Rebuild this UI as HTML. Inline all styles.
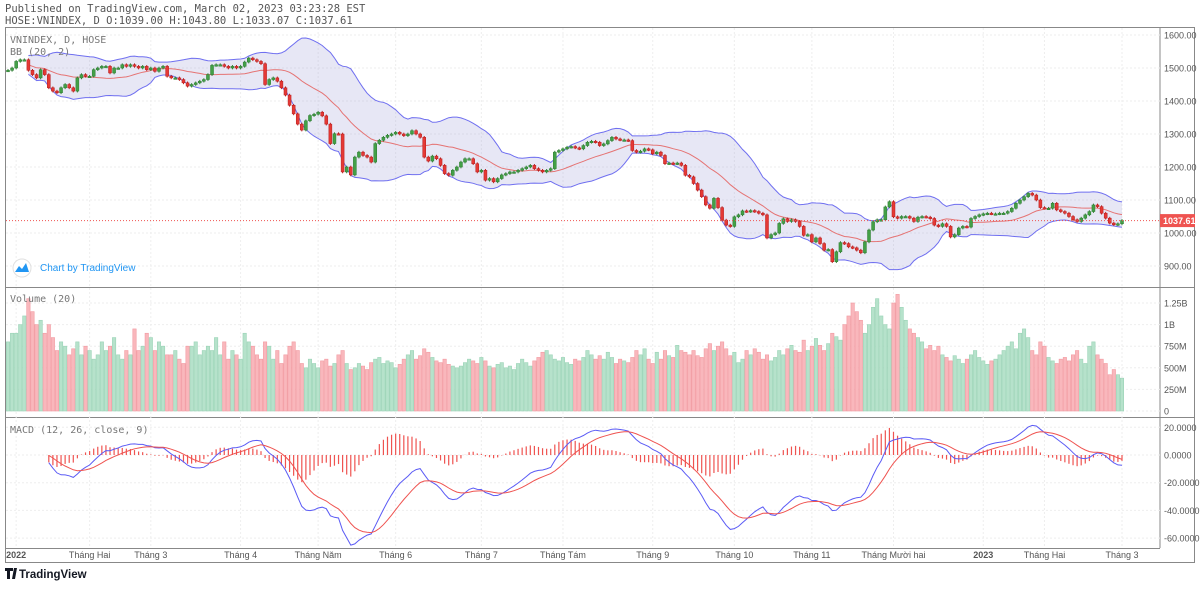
<!DOCTYPE html>
<html><head><meta charset="utf-8"><style>
body{margin:0;background:#fff;width:1200px;height:584px;overflow:hidden;font-family:"Liberation Mono","DejaVu Sans Mono",monospace}
svg text{font-family:"Liberation Sans",sans-serif}
.mono{font-family:"DejaVu Sans Mono","Liberation Mono",monospace}
</style></head><body>
<svg id="c" width="1200" height="584" viewBox="0 0 1200 584" xmlns="http://www.w3.org/2000/svg">
<text class="mono" x="5" y="12" font-size="10.5" fill="#555">Published on TradingView.com, March 02, 2023 03:23:28 EST</text>
<text class="mono" x="5" y="24" font-size="10.5" fill="#555">HOSE:VNINDEX, D O:1039.00 H:1043.80 L:1033.07 C:1037.61</text>
<rect x="5.5" y="27.5" width="1189" height="535" fill="none" stroke="#888"/>
<line x1="1160" y1="27" x2="1160" y2="548" stroke="#888"/>
<line x1="5" y1="287.5" x2="1195" y2="287.5" stroke="#888"/>
<line x1="5" y1="417.5" x2="1195" y2="417.5" stroke="#888"/>
<line x1="5" y1="548.5" x2="1160" y2="548.5" stroke="#888"/>
<g id="grid"></g>
<g id="bb"></g>
<g id="candles"></g>
<g id="vol"></g>
<g id="macd"></g>
<g id="axes"></g>
<text class="mono" x="10" y="43" font-size="10" fill="#777">VNINDEX, D, HOSE</text>
<text class="mono" x="10" y="55" font-size="10" fill="#777">BB (20, 2)</text>
<text class="mono" x="10" y="302" font-size="10" fill="#777">Volume (20)</text>
<text class="mono" x="10" y="433" font-size="10" fill="#777">MACD (12, 26, close, 9)</text>
<g>
<circle cx="22" cy="268" r="9" fill="#fff" stroke="#e0e0e0"/>
<path d="M15 272 L19 266 L22 269 L26 263 L29 272 Z" fill="#2196f3"/>
<text x="40" y="271" font-size="10" fill="#2196f3">Chart by TradingView</text>
</g>
<g>
<path d="M5 568 h8 v3 h-3 v8 h-3 v-8 h-2z M14 568 h3 l-2 11 h-3 z" fill="#131722"/>
<text x="19" y="578" font-size="11.5" font-weight="bold" fill="#131722">TradingView</text>
</g>
</svg>
<script>
const closes=[1493,1500,1520,1525,1525,1493,1480,1470,1495,1480,
1440,1430,1425,1440,1450,1440,1430,1470,1480,1475,
1475,1495,1500,1505,1505,1485,1500,1500,1510,1505,
1510,1505,1500,1505,1495,1500,1490,1500,1505,1475,
1470,1470,1465,1455,1445,1450,1455,1460,1465,1480,
1508,1510,1510,1505,1500,1505,1500,1505,1518,1530,
1525,1520,1513,1450,1465,1470,1460,1440,1418,1387,
1361,1330,1312,1340,1356,1360,1366,1355,1330,1271,
1301,1300,1185,1200,1176,1230,1245,1235,1230,1215,
1271,1281,1290,1296,1300,1305,1300,1295,1300,1310,
1300,1290,1230,1218,1233,1225,1205,1180,1175,1190,
1200,1215,1225,1225,1210,1185,1190,1160,1165,1155,
1165,1176,1180,1185,1185,1190,1195,1200,1205,1195,
1190,1185,1190,1195,
1245,1250,1255,1260,1262,1258,1255,1265,1275,1278,
1275,1265,1270,1280,1290,1285,1282,1282,1280,1250,
1245,1248,1255,1252,1240,1245,1235,1210,1212,1210,
1212,1205,1175,1170,1150,1130,1110,1085,1075,1105,
1077,1039,1024,1020,1049,1055,1067,1065,1068,1065,
1060,1055,985,995,1000,1029,1043,1035,1040,1035,
1020,993,995,973,985,968,948,950,913,943,
971,968,958,955,948,940,973,1009,1034,1040,
1040,1079,1095,1049,1045,1050,1050,1045,1035,1048,
1050,1048,1044,1024,1020,1028,1020,988,995,1015,
1020,1018,1044,1050,1055,1058,1060,1058,1058,1060,
1060,1065,1075,1090,1100,1110,1120,1115,1100,1077,
1075,1075,1090,1070,1065,1060,1050,1040,1035,1045,
1055,1065,1085,1080,1060,1045,1030,1025,1028,1038];
const volumes=[800,900,900,1000,1100,1300,1150,1000,1050,900,
1000,850,700,800,750,650,720,800,650,750,
700,600,650,800,700,750,850,650,600,700,
650,950,700,750,900,850,700,800,750,650,
650,700,600,550,750,750,800,650,700,750,
700,850,650,800,600,700,650,600,900,800,
750,650,600,800,750,600,700,550,650,750,
800,700,550,500,600,550,500,580,600,520,
550,650,700,550,480,500,550,520,480,560,
600,620,550,580,560,500,540,600,650,700,
600,640,720,680,620,580,560,600,540,520,
500,520,560,600,580,550,620,580,520,500,
540,560,500,520,480,550,600,560,520,580,
620,680,700,650,600,580,620,560,540,600,
580,620,700,650,600,640,600,680,620,550,
600,580,560,620,700,650,720,600,550,680,
600,700,640,620,760,700,680,650,700,640,
620,720,780,700,750,800,720,640,680,560,
600,700,650,720,680,600,650,580,620,700,
650,720,760,700,680,820,700,750,840,760,
700,780,900,860,820,1000,1100,1250,1150,1050,
900,1000,1200,1300,1100,1000,950,1250,1350,1200,
1050,950,900,850,800,720,760,700,750,650,
620,580,640,600,550,600,650,700,620,580,
540,580,600,650,700,750,800,720,900,950,
850,700,650,800,750,620,580,550,600,620,
580,650,700,600,550,750,800,650,600,550,
420,480,420,380];
const priceTicks=[1600,1500,1400,1300,1200,1100,1000,900];
const volTicks=[1250,1000,750,500,250,0];
const volTickLabels=["1.25B","1B","750M","500M","250M","0"];
const macdTicks=[20,0,-20,-40,-60];
const timeLabels=["2022","Tháng Hai","Tháng 3","Tháng 4","Tháng Năm","Tháng 6","Tháng 7","Tháng Tám","Tháng 9","Tháng 10","Tháng 11","Tháng Mười hai","2023","Tháng Hai","Tháng 3"];
const timeIdx=[2,20,35,57,76,95,116,136,158,178,197,217,239,254,273];
const lastPrice=1037.61;

const NS="http://www.w3.org/2000/svg";
const N=closes.length;
const X0=8,X1=1122,step=(X1-X0)/(N-1);
const xOf=i=>X0+i*step;
const py=p=>35+(1600-p)*0.33;
const vy=v=>411-v*0.0864;
const my=m=>455-m*1.385;
function mk(tag,attrs,parent){const e=document.createElementNS(NS,tag);for(const k in attrs)e.setAttribute(k,attrs[k]);parent.appendChild(e);return e;}
const G=id=>document.getElementById(id);
const opens=closes.map((c,i)=>i?closes[i-1]:c);

// grid
const grid=G('grid');
priceTicks.forEach(t=>{const l=mk('line',{x1:6,x2:1160,y1:py(t),y2:py(t),stroke:'#eee','stroke-dasharray':'2,2'},grid);

});
volTicks.forEach(t=>{const l=mk('line',{x1:6,x2:1160,y1:vy(t),y2:vy(t),stroke:'#eee','stroke-dasharray':'2,2'},grid);

});
macdTicks.forEach(t=>{const l=mk('line',{x1:6,x2:1160,y1:my(t),y2:my(t),stroke:'#eee','stroke-dasharray':'2,2'},grid);

});
timeIdx.forEach(ix=>{const l=mk('line',{x1:xOf(ix),x2:xOf(ix),y1:28,y2:548,stroke:'#eee','stroke-dasharray':'2,2'},grid);

});

// Bollinger
const mid=[],up=[],lo=[];
for(let i=0;i<N;i++){const s=closes.slice(Math.max(0,i-19),i+1);const m=s.reduce((a,b)=>a+b,0)/s.length;
const sd=Math.sqrt(s.reduce((a,b)=>a+(b-m)*(b-m),0)/s.length);mid.push(m);up.push(m+2*sd);lo.push(m-2*sd);}
const bb=G('bb');const S=5;
let fill='';for(let i=S;i<N;i++)fill+=(i==S?'M':'L')+xOf(i)+' '+py(up[i]);
for(let i=N-1;i>=S;i--)fill+='L'+xOf(i)+' '+py(lo[i]);
const bf=mk('path',{d:fill+'Z',fill:'rgba(120,123,200,0.18)'},bb);


[[up,'#6f6ff0','bb-upper'],[lo,'#6f6ff0','bb-lower'],[mid,'#e57373','bb-basis']].forEach(([a,col,nm])=>{
let d='';for(let i=S;i<N;i++)d+=(i==S?'M':'L')+xOf(i).toFixed(1)+' '+py(a[i]).toFixed(1);
const p=mk('path',{d,fill:'none',stroke:col,'stroke-width':1},bb);

});

// candles
const cg=G('candles');
for(let i=0;i<N;i++){const o=opens[i],c=closes[i],x=xOf(i);const g=c>=o;
const hi=Math.max(o,c)+4,lw=Math.min(o,c)-4;const col=g?'#43a047':'#e53935',bd=g?'#2e7d32':'#b71c1c';
const w=mk('line',{x1:x,x2:x,y1:py(hi),y2:py(lw),stroke:bd,'stroke-width':1},cg);


const t=Math.min(py(o),py(c));const h=Math.max(1.5,Math.abs(py(o)-py(c)));
const r=mk('rect',{x:x-1.5,y:t,width:3,height:h,fill:col,stroke:bd,'stroke-width':0.5},cg);

}
const pl=mk('line',{x1:6,x2:1160,y1:py(lastPrice),y2:py(lastPrice),stroke:'#ef5350','stroke-dasharray':'1,2'},cg);



// volume
const vg=G('vol');
for(let i=0;i<N;i++){const g=closes[i]>=opens[i];const x=xOf(i);
const r=mk('rect',{x:x-1.7,y:vy(volumes[i]),width:3.4,height:411-vy(volumes[i]),fill:g?'#b6e2cb':'#f9b7bc',stroke:g?'#9ad3b6':'#f29aa1','stroke-width':0.6},vg);

}

// MACD
function ema(a,n){const k=2/(n+1);const r=[a[0]];for(let i=1;i<a.length;i++)r.push(a[i]*k+r[i-1]*(1-k));return r;}
const e12=ema(closes,12),e26=ema(closes,26);const macd=e12.map((v,i)=>v-e26[i]);const sig=ema(macd,9);
const mg=G('macd');const MS=10;
for(let i=MS;i<N;i++){const h=macd[i]-sig[i];const x=xOf(i);
const b=mk('line',{x1:x,x2:x,y1:my(0),y2:my(h),stroke:'#ef5350','stroke-width':1.2},mg);

}
[[macd,'#5b5bf5','macd-line'],[sig,'#ef5350','signal-line']].forEach(([a,col,nm])=>{
let d='';for(let i=MS;i<N;i++)d+=(i==MS?'M':'L')+xOf(i).toFixed(1)+' '+my(a[i]).toFixed(1);
const p=mk('path',{d,fill:'none',stroke:col,'stroke-width':1},mg);

});

// axes
const ax=G('axes');
priceTicks.forEach(t=>{const tx=mk('text',{x:1164,y:py(t)+3.5,'font-size':9,fill:'#555'},ax);tx.textContent=t.toFixed(2);

});
volTicks.forEach((t,k)=>{const tx=mk('text',{x:1164,y:vy(t)+3.5,'font-size':9,fill:'#555'},ax);tx.textContent=volTickLabels[k];

});
macdTicks.forEach(t=>{const tx=mk('text',{x:1164,y:my(t)+3.5,'font-size':9,fill:'#555'},ax);tx.textContent=t.toFixed(4);

});
timeLabels.forEach((s,k)=>{const tx=mk('text',{x:xOf(timeIdx[k]),y:558,'font-size':9,fill:'#555','text-anchor':'middle','font-weight':(s==='2022'||s==='2023')?'bold':'normal'},ax);tx.textContent=s;

});
const lb=mk('rect',{x:1160,y:py(lastPrice)-6.5,width:35,height:13,fill:'#ef5350'},ax);


const lt=mk('text',{x:1163,y:py(lastPrice)+3.5,'font-size':9,'font-weight':'bold',fill:'#fff'},ax);lt.textContent=lastPrice.toFixed(2);


</script>
</body></html>
